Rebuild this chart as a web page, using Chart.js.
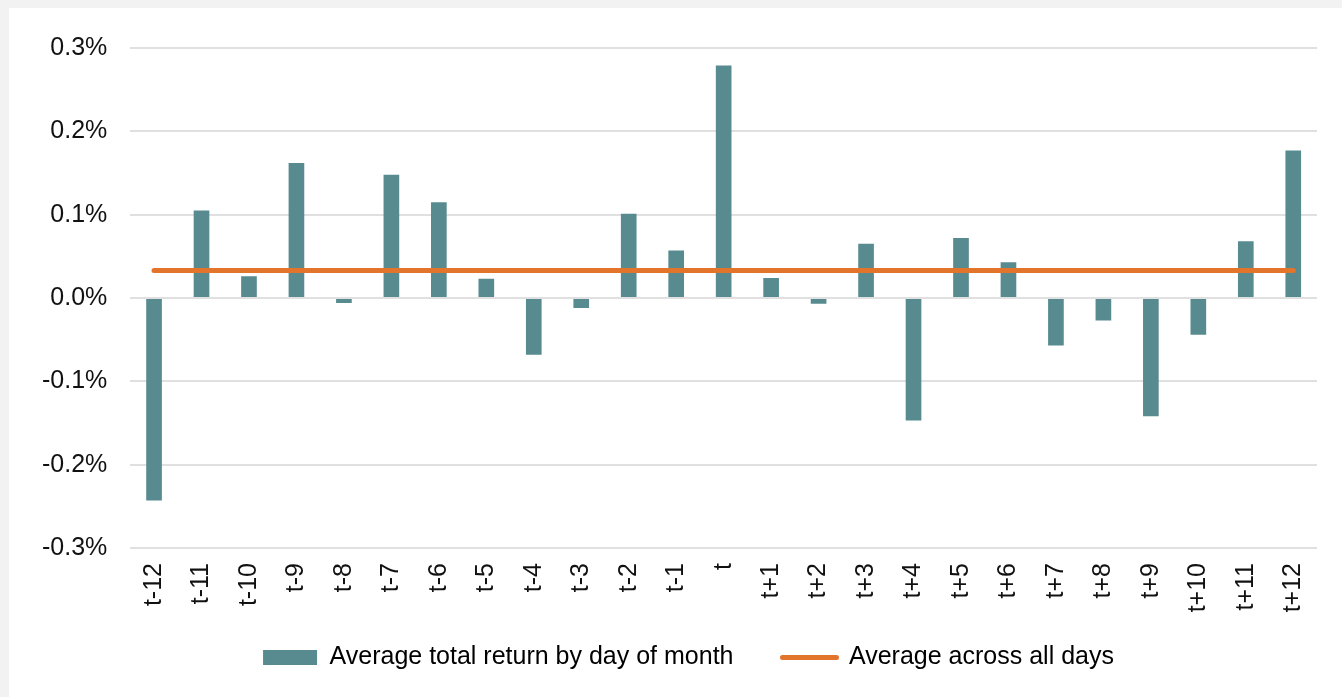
<!DOCTYPE html>
<html>
<head>
<meta charset="utf-8">
<script src="https://cdn.jsdelivr.net/npm/chart.js@4.4.1/dist/chart.umd.min.js"></script>
<style>
  html, body { margin: 0; padding: 0; background: #f2f2f2; width: 1342px; height: 697px; overflow: hidden; }
  #card { position: absolute; left: 9px; top: 8px; width: 1333px; height: 689px; background: #ffffff; }
  canvas { display: block; }
</style>
</head>
<body>
<div id="card"><canvas id="c" width="1333" height="689"></canvas></div>
<script>
const categories = ['t-12','t-11','t-10','t-9','t-8','t-7','t-6','t-5','t-4','t-3','t-2','t-1','t',
                    't+1','t+2','t+3','t+4','t+5','t+6','t+7','t+8','t+9','t+10','t+11','t+12'];
const dayReturns = [-0.243, 0.105, 0.026, 0.162, -0.006, 0.148, 0.115, 0.023, -0.068, -0.012, 0.101, 0.057, 0.279,
                    0.024, -0.007, 0.065, -0.147, 0.072, 0.043, -0.057, -0.027, -0.142, -0.044, 0.068, 0.177];
const allDaysAverage = [0.033, 0.033, 0.033, 0.033, 0.033, 0.033, 0.033, 0.033, 0.033, 0.033, 0.033, 0.033, 0.033,
                        0.033, 0.033, 0.033, 0.033, 0.033, 0.033, 0.033, 0.033, 0.033, 0.033, 0.033, 0.033];
const yTicks = [-0.3, -0.2, -0.1, 0.0, 0.1, 0.2, 0.3];
const seriesNames = ['Average total return by day of month', 'Average across all days'];

const TEAL = '#578b8f';
const ORANGE = '#e2742b';
const FONT = "'Liberation Sans', Arial, sans-serif";

const legendShift = {
  id: 'legendShift',
  afterLayout(chart) {
    if (chart.legend) { chart.legend.left += 20; chart.legend.right += 21; }
  }
};

new Chart(document.getElementById('c'), {
  data: {
    labels: categories,
    datasets: [
      {
        type: 'line',
        label: seriesNames[1],
        data: allDaysAverage,
        borderColor: ORANGE,
        backgroundColor: ORANGE,
        borderWidth: 5,
        borderCapStyle: 'round',
        pointRadius: 0,
        fill: false,
        order: 0
      },
      {
        type: 'bar',
        label: seriesNames[0],
        data: dayReturns,
        backgroundColor: TEAL,
        borderWidth: 0,
        barPercentage: 0.33,
        categoryPercentage: 1.0,
        order: 1
      }
    ]
  },
  plugins: [legendShift],
  options: {
    responsive: false,
    animation: false,
    layout: { padding: { left: 10, right: 25, top: 40, bottom: 17 } },
    plugins: {
      tooltip: { enabled: false },
      legend: {
        position: 'bottom',
        labels: {
          font: { family: FONT, size: 25 },
          color: '#111',
          usePointStyle: true,
          pointStyleWidth: 54,
          boxHeight: 15,
          padding: 49,
          generateLabels: function(chart) {
            return [
              { text: seriesNames[0], fillStyle: TEAL, strokeStyle: TEAL, lineWidth: 0, pointStyle: 'rect', datasetIndex: 1, hidden: false },
              { text: seriesNames[1], fillStyle: ORANGE, strokeStyle: ORANGE, lineWidth: 5, lineCap: 'round', pointStyle: 'line', datasetIndex: 0, hidden: false }
            ];
          }
        }
      }
    },
    scales: {
      x: {
        grid: { display: false, drawTicks: false },
        border: { display: false },
        afterFit: function(scale) {
          scale.height = 48;
          scale._computeLabelArea = function() { return undefined; };
        },
        ticks: {
          font: { family: FONT, size: 25 },
          color: '#111',
          minRotation: 90,
          maxRotation: 90,
          autoSkip: false,
          padding: 15
        }
      },
      y: {
        min: -0.3,
        max: 0.3,
        afterBuildTicks: function(axis) { axis.ticks = yTicks.map(v => ({ value: v })); },
        grid: { color: '#e0e0e0', lineWidth: 2, drawTicks: false },
        border: { display: false },
        ticks: {
          font: { family: FONT, size: 25 },
          color: '#111',
          padding: 23,
          callback: function(v) { return (Math.abs(v) < 1e-9 ? 0 : v).toFixed(1) + '%'; }
        }
      }
    }
  }
});
</script>
</body>
</html>
